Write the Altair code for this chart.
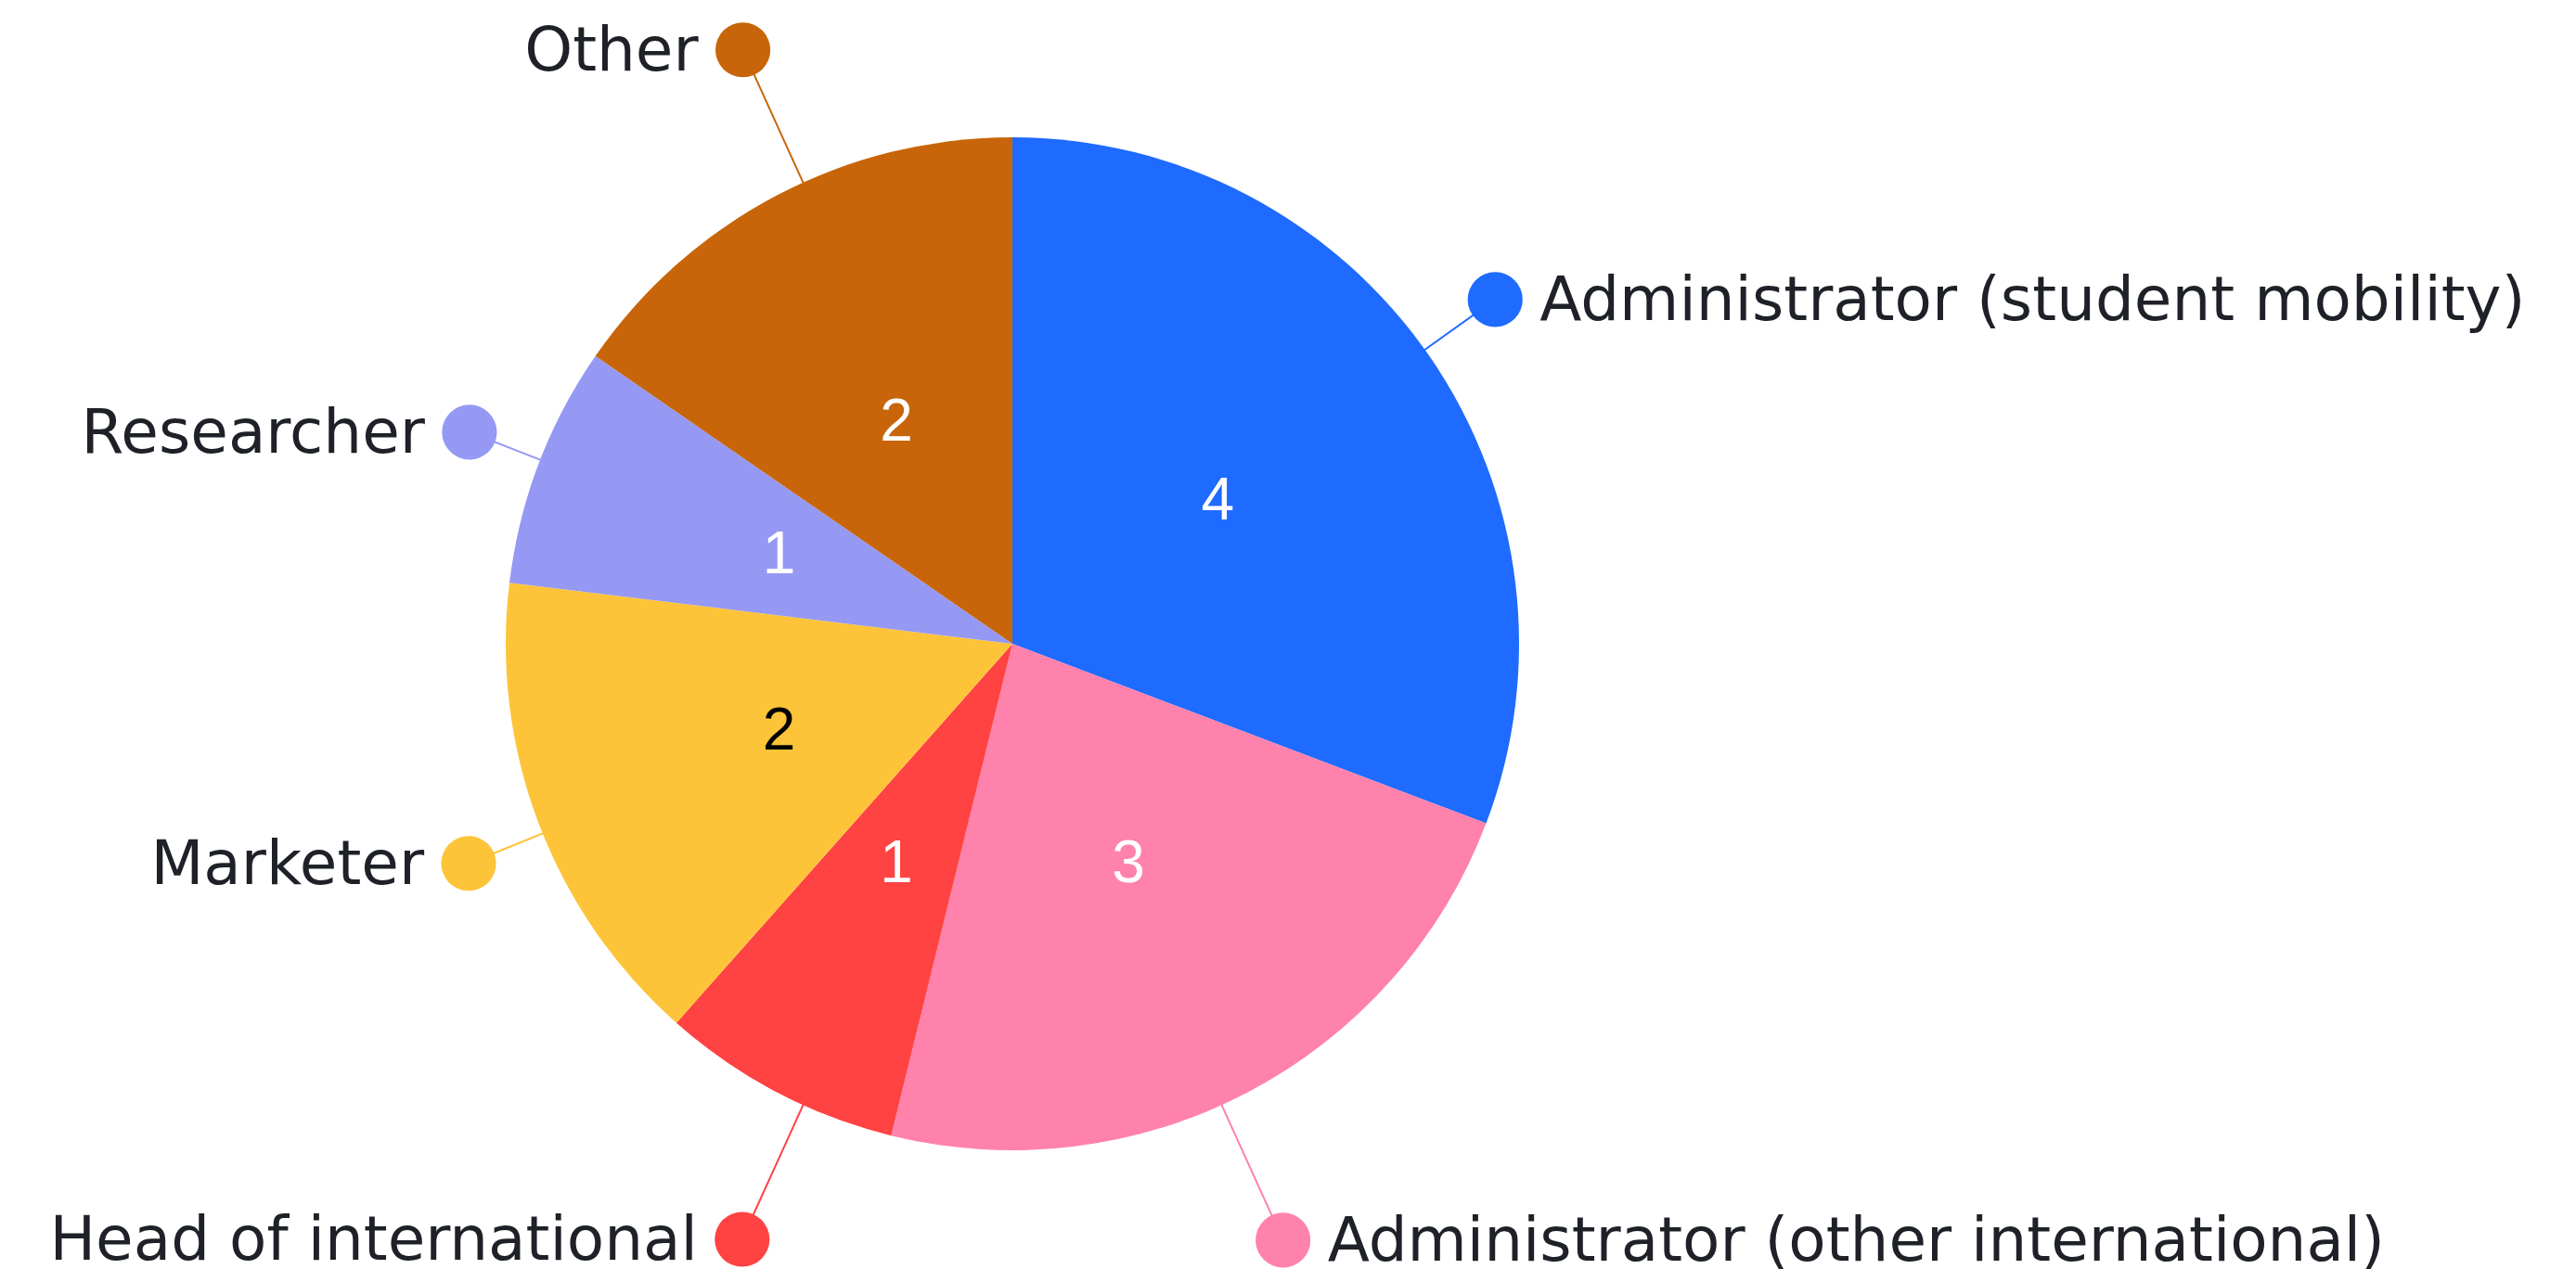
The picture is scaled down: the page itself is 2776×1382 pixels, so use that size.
import math
import altair as alt
import pandas as pd

# ---- data ----
categories = [
    "Administrator (student mobility)",
    "Administrator (other international)",
    "Head of international",
    "Marketer",
    "Researcher",
    "Other",
]
counts = [4, 3, 1, 2, 1, 2]
colors = ["#1F6BFF", "#FF82AC", "#FF4242", "#FDC439", "#9599F3", "#C8650A"]
value_text_colors = ["#FFFFFF", "#FFFFFF", "#FFFFFF", "#000000", "#FFFFFF", "#FFFFFF"]

# ---- layout ----
W, H = 2776, 1382
CX, CY, R = 1091, 694, 546
INNER_R = 269
label_angles = [54.5, 155.6, 204.4, 248.0, 291.3, 335.6]   # degrees clockwise from 12 o'clock
label_dists = [639, 706, 705, 632, 628, 703]
label_sides = ["right", "right", "left", "left", "left", "left"]
TEXT_GAP = 48
LABEL_FONT = "DejaVu Sans"
LABEL_SIZE = 66

pie = pd.DataFrame({
    "cat": categories,
    "value": counts,
    "order": list(range(len(categories))),
    "tcolor": value_text_colors,
})

rows = []
for c, col, a, d, s in zip(categories, colors, label_angles, label_dists, label_sides):
    t = math.radians(a)
    sx, sy = math.sin(t), -math.cos(t)
    dx, dy = CX + d * sx, CY + d * sy
    rows.append({
        "cat": c,
        "lx1": CX + (R - 4) * sx, "ly1": CY + (R - 4) * sy,
        "dx": dx, "dy": dy,
        "tx": dx + TEXT_GAP if s == "right" else dx - TEXT_GAP,
        "ty": dy + 2,
        "side": s,
    })
labels = pd.DataFrame(rows)

color_scale = alt.Scale(domain=categories, range=colors)

arcs = alt.Chart(pie).mark_arc(outerRadius=R, x=CX, y=CY, strokeWidth=0).encode(
    theta=alt.Theta("value:Q", stack=True),
    order=alt.Order("order:Q"),
    color=alt.Color("cat:N", scale=color_scale, legend=None),
)

values_txt = alt.Chart(pie).mark_text(
    radius=INNER_R, x=CX, y=CY, font="Liberation Sans", fontSize=64,
    align="center", baseline="middle",
).encode(
    theta=alt.Theta("value:Q", stack=True),
    order=alt.Order("order:Q"),
    text=alt.Text("value:Q"),
    color=alt.Color("tcolor:N", scale=None),
)

base = alt.Chart(labels)
leaders = base.mark_rule(strokeWidth=2).encode(
    x=alt.X("lx1:Q", scale=None, axis=None),
    y=alt.Y("ly1:Q", scale=None, axis=None),
    x2="dx:Q",
    y2="dy:Q",
    color=alt.Color("cat:N", scale=color_scale, legend=None),
)
dots = base.mark_point(filled=True, shape="circle", size=3500, opacity=1).encode(
    x=alt.X("dx:Q", scale=None, axis=None),
    y=alt.Y("dy:Q", scale=None, axis=None),
    color=alt.Color("cat:N", scale=color_scale, legend=None),
)
txt_right = base.transform_filter(alt.datum.side == "right").mark_text(
    align="left", baseline="middle", font=LABEL_FONT, fontSize=LABEL_SIZE, color="#1E2127",
).encode(
    x=alt.X("tx:Q", scale=None, axis=None),
    y=alt.Y("ty:Q", scale=None, axis=None),
    text="cat:N",
)
txt_left = base.transform_filter(alt.datum.side == "left").mark_text(
    align="right", baseline="middle", font=LABEL_FONT, fontSize=LABEL_SIZE, color="#1E2127",
).encode(
    x=alt.X("tx:Q", scale=None, axis=None),
    y=alt.Y("ty:Q", scale=None, axis=None),
    text="cat:N",
)

chart = alt.layer(arcs, values_txt, leaders, dots, txt_right, txt_left).properties(
    width=W, height=H, autosize=alt.AutoSizeParams(type="none"), padding=0,
    background="#FFFFFF",
).configure_view(stroke=None)

chart.save("out.html", embed_options={"renderer": "svg", "actions": False})
